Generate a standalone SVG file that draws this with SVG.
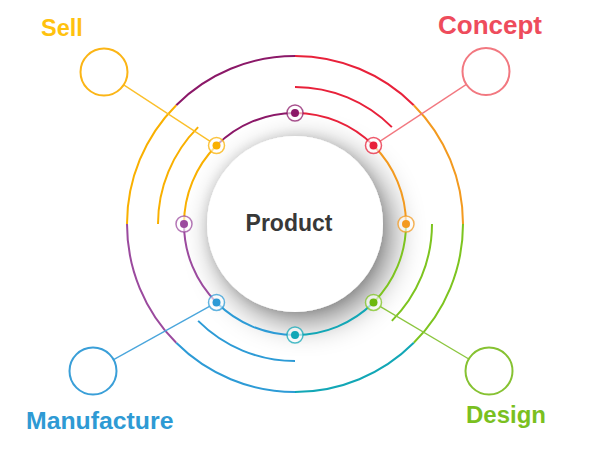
<svg xmlns="http://www.w3.org/2000/svg" width="600" height="457" viewBox="0 0 600 457">
<defs>
<filter id="sh" x="-60%" y="-60%" width="220%" height="220%">
<feGaussianBlur in="SourceAlpha" stdDeviation="16" result="b"/>
<feOffset in="b" dx="9" dy="10" result="o"/>
<feComponentTransfer in="o" result="s"><feFuncA type="linear" slope="0.5"/></feComponentTransfer>
<feGaussianBlur in="SourceAlpha" stdDeviation="6" result="b2"/>
<feComponentTransfer in="b2" result="s2"><feFuncA type="linear" slope="0.12"/></feComponentTransfer>
<feMerge><feMergeNode in="s"/><feMergeNode in="s2"/><feMergeNode in="SourceGraphic"/></feMerge>
</filter>
<style>
.arc{fill:none;stroke-width:2;stroke-linecap:butt}
.lbl{font-family:"Liberation Sans",Arial,sans-serif;font-weight:bold}
.node{fill:#fff;stroke-width:2}
.con{stroke-width:1.3;fill:none}
.ring{fill:#fff;fill-opacity:0.6;stroke-width:1.5;stroke-opacity:0.75}
</style>
</defs>
<rect width="600" height="457" fill="#fff"/>
<g id="center">
<circle cx="295" cy="224" r="88" fill="#fff" filter="url(#sh)"/>
<text class="lbl" x="289" y="231" text-anchor="middle" font-size="23" fill="#383838">Product</text>
</g>
<g id="rings">
<path class="arc" stroke="#8B1868" d="M176.21,105.21 A168,168 0 0 1 295,56"/>
<path class="arc" stroke="#E8213A" d="M295,56 A168,168 0 0 1 413.79,105.21"/>
<path class="arc" stroke="#F39A1F" d="M413.79,105.21 A168,168 0 0 1 463,224"/>
<path class="arc" stroke="#7DC41F" d="M463,224 A168,168 0 0 1 413.79,342.79"/>
<path class="arc" stroke="#12A7B6" d="M413.79,342.79 A168,168 0 0 1 295,392"/>
<path class="arc" stroke="#2D9BD6" d="M295,392 A168,168 0 0 1 176.21,342.79"/>
<path class="arc" stroke="#9B4A9E" d="M176.21,342.79 A168,168 0 0 1 127,224"/>
<path class="arc" stroke="#F9B000" d="M127,224 A168,168 0 0 1 176.21,105.21"/>
<path class="arc" stroke="#E8213A" d="M295,87 A137,137 0 0 1 391.87,127.13"/>
<path class="arc" stroke="#7DC41F" d="M432,224 A137,137 0 0 1 391.87,320.87"/>
<path class="arc" stroke="#2D9BD6" d="M295,361 A137,137 0 0 1 198.13,320.87"/>
<path class="arc" stroke="#F9B000" d="M158,224 A137,137 0 0 1 198.13,127.13"/>
<path class="arc" stroke="#8B1868" d="M216.51,145.51 A111,111 0 0 1 295,113"/>
<path class="arc" stroke="#E8213A" d="M295,113 A111,111 0 0 1 373.49,145.51"/>
<path class="arc" stroke="#F39A1F" d="M373.49,145.51 A111,111 0 0 1 406,224"/>
<path class="arc" stroke="#7DC41F" d="M406,224 A111,111 0 0 1 373.49,302.49"/>
<path class="arc" stroke="#12A7B6" d="M373.49,302.49 A111,111 0 0 1 295,335"/>
<path class="arc" stroke="#2D9BD6" d="M295,335 A111,111 0 0 1 216.51,302.49"/>
<path class="arc" stroke="#9B4A9E" d="M216.51,302.49 A111,111 0 0 1 184,224"/>
<path class="arc" stroke="#F9B000" d="M184,224 A111,111 0 0 1 216.51,145.51"/>
</g>
<g id="connectors">
<line class="con" stroke="#FBBF2A" x1="123.7" y1="84.9" x2="209.8" y2="141.1"/>
<line class="con" stroke="#F27880" x1="466.4" y1="84.4" x2="380.2" y2="141.1"/>
<line class="con" stroke="#4AA6DC" x1="113.6" y1="359.6" x2="209.5" y2="306.4"/>
<line class="con" stroke="#8CC63F" x1="468.8" y1="359" x2="380.4" y2="306.6"/>
</g>
<g id="dots">
<g id="dot-top"><circle class="ring" cx="295" cy="113" r="8" stroke="#8B1868"/><circle cx="295" cy="113" r="4" fill="#8B1868"/></g>
<g id="dot-tr"><circle class="ring" cx="373.49" cy="145.51" r="8" stroke="#E8213A"/><circle cx="373.49" cy="145.51" r="4" fill="#E8213A"/></g>
<g id="dot-right"><circle class="ring" cx="406" cy="224" r="8" stroke="#F39A1F"/><circle cx="406" cy="224" r="4" fill="#F39A1F"/></g>
<g id="dot-br"><circle class="ring" cx="373.49" cy="302.49" r="8" stroke="#7DC41F"/><circle cx="373.49" cy="302.49" r="4" fill="#6DB80F"/></g>
<g id="dot-bottom"><circle class="ring" cx="295" cy="335" r="8" stroke="#12A7B6"/><circle cx="295" cy="335" r="4" fill="#12A7B6"/></g>
<g id="dot-bl"><circle class="ring" cx="216.51" cy="302.49" r="8" stroke="#2D9BD6"/><circle cx="216.51" cy="302.49" r="4" fill="#2D9BD6"/></g>
<g id="dot-left"><circle class="ring" cx="184" cy="224" r="8" stroke="#9B4A9E"/><circle cx="184" cy="224" r="4" fill="#9B4A9E"/></g>
<g id="dot-tl"><circle class="ring" cx="216.51" cy="145.51" r="8" stroke="#F9B000"/><circle cx="216.51" cy="145.51" r="4" fill="#F9B000"/></g>
</g>
<g id="sell">
<circle class="node" cx="104" cy="72" r="23.5" stroke="#FBB516"/>
<text class="lbl" x="41" y="36" font-size="23.5" fill="#FFC20E">Sell</text>
</g>
<g id="concept">
<circle class="node" cx="486" cy="71.5" r="23.5" stroke="#F27880"/>
<text class="lbl" x="438" y="34" font-size="26" fill="#EE4C5C">Concept</text>
</g>
<g id="manufacture">
<circle class="node" cx="93" cy="371" r="23.5" stroke="#3A9FD8"/>
<text class="lbl" x="26" y="429" font-size="24.8" fill="#2E9AD4">Manufacture</text>
</g>
<g id="design">
<circle class="node" cx="489" cy="371" r="23.5" stroke="#86C232"/>
<text class="lbl" x="466" y="423" font-size="24" fill="#7AC01F">Design</text>
</g>
</svg>
